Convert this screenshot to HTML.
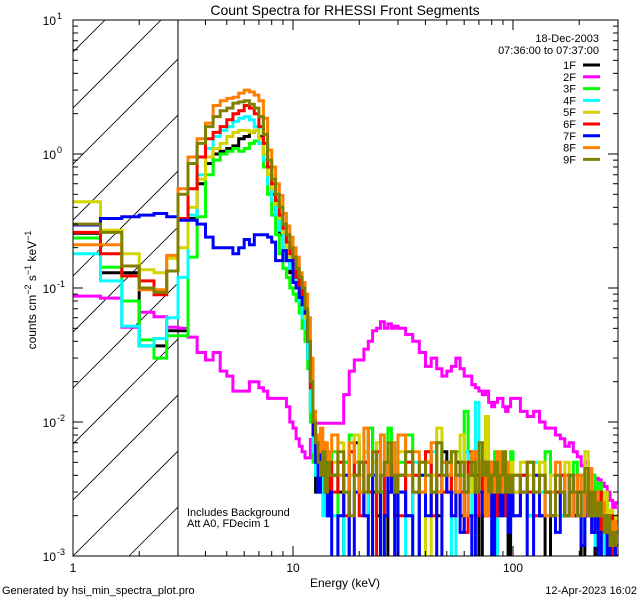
<!DOCTYPE html>
<html><head><meta charset="utf-8"><style>
html,body{margin:0;padding:0;background:#fff;}
svg{display:block;font-family:"Liberation Sans",sans-serif;}
</style></head><body>
<svg id="chart" width="640" height="600" viewBox="0 0 640 600" xmlns="http://www.w3.org/2000/svg">
<defs><clipPath id="pc"><rect x="73" y="20" width="545" height="536"/></clipPath></defs>
<rect width="640" height="600" fill="#fff"/>
<text x="345" y="15" font-size="14" text-anchor="middle">Count Spectra for RHESSI Front Segments</text>
<g id="hatch" clip-path="url(#pc)"></g>
<g id="series" clip-path="url(#pc)"></g>
<g id="axes"></g>
<text transform="translate(36,290) rotate(-90)" font-size="12" text-anchor="middle">counts cm<tspan font-size="9" dy="-5">−2</tspan><tspan dy="5"> s</tspan><tspan font-size="9" dy="-5">−1</tspan><tspan dy="5"> keV</tspan><tspan font-size="9" dy="-5">−1</tspan></text>
<text x="345" y="587" font-size="12" text-anchor="middle">Energy (keV)</text>
<text x="2" y="594" font-size="11">Generated by hsi_min_spectra_plot.pro</text>
<text x="637" y="594" font-size="11" text-anchor="end">12-Apr-2023 16:02</text>
<text x="599" y="42" font-size="11" text-anchor="end">18-Dec-2003</text>
<text x="599" y="54" font-size="11" text-anchor="end">07:36:00 to 07:37:00</text>
<text x="187" y="516" font-size="11">Includes Background</text>
<text x="187" y="527" font-size="11">Att A0, FDecim 1</text>
<g id="legend"></g>
</svg>
<script>
const names = ["1F","2F","3F","4F","5F","6F","7F","8F","9F"];
const colors = ["#000000","#ff00ff","#00ff00","#00ffff","#d4d400","#ff0000","#0000ff","#ff8000","#808000"];
const xTicks = [1,10,100];
const xTickLabels = ["1","10","100"];
const yTickExp = [1,0,-1,-2,-3];
const s1F = [0.256,0.13,0.13,0.037,0.037,0.048,
0.048,0.33,0.6,0.85,1.0,1.05,1.1,1.15,1.3,1.35,1.45,1.5,1.35,1.0,0.7,0.5,0.35,0.25,0.2,0.16,0.13,0.11,0.1,0.08,0.065,0.05,0.03,0.012,0.006,0.003,0.004,0.006,0.003,0.005,0.002,0.004,
.004,.003,.0008,.006,.007,.003,.002,.009,.003,.002,.004,.0008,.003,.005,.002,
.004,.002,.003,.0009,.005,.003,.002,.006,.004,.003,.005,.002,.003,.006,.004,.003,.0009,.002,.004,.003,.005,.002,.003,.004,.002,.003,.0009,.002,
.003,.004,.002,.003,.002,.0009,.002,.003,.004,.002,.003,.002,.003,.0009,.002,.003,.002,.001,.002,.003,.0008,.002,.0015,.0008,.0018];
const s2F = [0.087,0.084,0.051,0.066,0.061,0.051,
0.05,0.043,0.033,0.029,0.033,0.024,0.022,0.017,0.017,0.017,0.02,0.02,0.018,0.017,0.015,0.015,0.015,0.015,0.015,0.013,0.01,0.009,0.0075,0.0066,0.006,0.0054,0.0054,0.0074,0.0098,0.0098,0.0098,0.0098,0.0098,0.0098,0.0098,0.0098,
0.0098,0.0098,0.016,0.024,0.029,0.029,0.035,0.04,0.048,0.05,0.056,0.05,0.054,0.05,0.052,
0.05,0.045,0.04,0.033,0.026,0.03,0.025,0.022,0.024,0.026,0.03,0.025,0.022,0.022,0.019,0.018,0.017,0.016,0.017,0.014,0.013,0.014,0.015,0.015,0.013,0.012,0.013,0.015,
0.015,0.012,0.011,0.012,0.01,0.009,0.009,0.008,0.0075,0.0066,0.007,0.006,0.0055,0.0047,0.005,0.0045,0.004,0.0038,0.0037,0.0035,0.0033,0.003,0.0026,0.0023,0.0025];
const s3F = [0.236,0.143,0.08,0.041,0.03,0.044,
0.044,0.17,0.34,0.7,0.9,1.0,1.05,1.1,1.05,1.1,1.2,1.25,1.2,0.8,0.5,0.35,0.25,0.18,0.14,0.12,0.1,0.09,0.08,0.065,0.05,0.04,0.025,0.01,0.005,0.004,0.003,0.005,0.004,0.003,0.005,0.004,
.006,.002,.005,.008,.004,.003,.006,.009,.004,.007,.003,.005,.009,.004,.006,
.005,.008,.003,.004,.006,.003,.007,.004,.005,.003,.006,.004,.012,.005,.003,.006,.004,.007,.005,.003,.004,.006,.003,.004,.005,.003,.004,.006,
.004,.003,.005,.004,.003,.006,.004,.003,.004,.002,.003,.005,.003,.004,.002,.003,.004,.002,.0035,.002,.003,.0015,.002,.0012,.0018];
const s4F = [0.18,0.113,0.052,0.037,0.042,0.06,
0.12,0.35,0.7,1.1,1.35,1.5,1.6,1.75,1.85,1.9,1.8,1.6,1.2,0.9,0.6,0.45,0.35,0.27,0.2,0.17,0.14,0.12,0.1,0.08,0.06,0.05,0.03,0.012,0.006,0.004,0.003,0.005,0.002,0.004,0.003,0.004,
.002,.0009,.004,.006,.003,.005,.002,.004,.006,.003,.0009,.005,.004,.003,.007,
.003,.0008,.005,.004,.002,.006,.003,.004,.005,.0008,.004,.003,.006,.004,.002,.014,.003,.005,.004,.002,.003,.0009,.004,.005,.002,.004,.003,.002,
.003,.004,.002,.005,.003,.002,.004,.003,.002,.004,.003,.002,.003,.0015,.004,.002,.003,.0012,.002,.0025,.001,.002,.0015,.001,.0012];
const s5F = [0.44,0.27,0.18,0.137,0.13,0.167,
0.2,0.4,0.65,0.95,1.1,1.2,1.35,1.45,1.5,1.5,1.45,1.5,1.3,1.0,0.7,0.55,0.42,0.33,0.26,0.2,0.17,0.14,0.12,0.1,0.08,0.06,0.04,0.02,0.009,0.006,0.005,0.007,0.005,0.004,0.006,0.005,
.005,.007,.003,.004,.008,.004,.006,.003,.005,.007,.004,.003,.006,.005,.004,
.006,.004,.003,.005,.0009,.004,.009,.005,.003,.006,.004,.008,.005,.003,.004,.006,.003,.005,.011,.004,.003,.005,.004,.003,.006,.003,.004,.005,
.003,.005,.004,.003,.005,.003,.004,.002,.003,.005,.003,.004,.002,.003,.006,.003,.002,.003,.0025,.002,.003,.0018,.0022,.0015,.002];
const s6F = [0.26,0.18,0.123,0.113,0.089,0.134,
0.33,0.55,0.95,1.3,1.45,1.6,1.8,2.0,2.1,2.3,2.2,2.0,1.6,1.2,0.8,0.6,0.45,0.35,0.28,0.22,0.18,0.15,0.12,0.1,0.085,0.065,0.04,0.018,0.009,0.006,0.005,0.007,0.004,0.006,0.003,0.005,
.003,.005,.002,.006,.004,.002,.005,.003,.0009,.006,.004,.002,.005,.003,.004,
.002,.005,.004,.003,.006,.002,.004,.003,.005,.002,.004,.003,.0015,.005,.004,.002,.003,.005,.004,.002,.004,.003,.002,.004,.003,.002,.004,.003,
.002,.004,.003,.002,.004,.003,.002,.003,.004,.002,.003,.002,.004,.003,.002,.003,.0015,.002,.003,.0015,.002,.0012,.002,.001,.0015];
const s7F = [0.295,0.33,0.34,0.35,0.36,0.34,
0.32,0.32,0.3,0.24,0.2,0.2,0.2,0.18,0.2,0.23,0.21,0.25,0.25,0.25,0.24,0.22,0.16,0.16,0.19,0.16,0.16,0.11,0.1,0.085,0.075,0.065,0.04,0.02,0.008,0.005,0.003,0.006,0.004,0.003,0.002,0.003,
.0008,.002,.004,.0009,.003,.005,.002,.0008,.004,.003,.0009,.002,.005,.003,.0008,
.003,.002,.0008,.004,.002,.003,.0009,.005,.003,.002,.004,.0015,.003,.002,.0008,.004,.003,.002,.005,.003,.0008,.004,.003,.002,.004,.003,.0015,.003,
.002,.003,.0009,.004,.002,.003,.002,.0015,.003,.002,.004,.002,.003,.0012,.002,.003,.0015,.002,.001,.0015,.002,.001,.0015,.0012,.001];
const s8F = [0.21,0.21,0.146,0.097,0.097,0.175,
0.55,0.95,1.3,1.7,2.3,2.5,2.6,2.65,2.85,3.0,2.9,2.75,2.5,1.85,1.07,0.8,0.6,0.49,0.36,0.29,0.24,0.2,0.17,0.13,0.11,0.09,0.06,0.03,0.012,0.008,0.006,0.009,0.005,0.007,0.004,0.006,
.008,.004,.003,.007,.005,.003,.009,.004,.006,.003,.008,.004,.005,.007,.003,
.008,.004,.006,.003,.005,.007,.003,.005,.004,.006,.003,.005,.002,.004,.006,.003,.005,.004,.002,.005,.003,.004,.006,.003,.004,.005,.003,.004,
.004,.003,.005,.003,.004,.002,.003,.005,.003,.004,.002,.003,.004,.002,.003,.0045,.002,.003,.002,.0025,.0015,.002,.0012,.0018,.0015];
const s9F = [0.30,0.26,0.146,0.1,0.093,0.134,
0.5,0.85,1.2,1.6,1.9,2.1,2.2,2.4,2.45,2.5,2.35,2.2,1.9,1.4,0.9,0.65,0.5,0.4,0.3,0.25,0.2,0.17,0.14,0.12,0.1,0.07,0.04,0.02,0.01,0.007,0.005,0.004,0.006,0.003,0.005,0.004,
.004,.006,.003,.002,.004,.005,.003,.004,.006,.003,.004,.005,.007,.004,.003,
.004,.006,.003,.005,.004,.003,.007,.004,.005,.006,.004,.005,.003,.004,.005,.003,.007,.004,.005,.003,.004,.005,.003,.004,.006,.003,.004,.003,
.004,.003,.005,.003,.004,.003,.002,.004,.003,.002,.004,.003,.002,.003,.0045,.002,.003,.002,.0025,.002,.0015,.002,.0012,.0015,.0012];
const seriesData = [s1F,s2F,s3F,s4F,s5F,s6F,s7F,s8F,s9F];

// energy bin edges (keV): 1/3 keV to 15, 1 keV to 30, 2.5 keV to 100, 8 keV to 300
const edges = [];
for (let i=0;i<=42;i++) edges.push(1+i/3);
for (let e=16;e<=30;e++) edges.push(e);
for (let i=1;i<=28;i++) edges.push(30+2.5*i);
for (let i=1;i<=25;i++) edges.push(100+8*i);

const X0=73, X1=618, Y0=20, Y1=556, DEC=220, YDEC=134;
const xs = e => X0 + DEC*Math.log10(e);
const ys = v => { const vv=Math.max(v,5e-4); return 154 - YDEC*Math.log10(vv); };
const NS="http://www.w3.org/2000/svg";
function mk(tag, attrs, parent){const el=document.createElementNS(NS,tag);for(const k in attrs)el.setAttribute(k,attrs[k]);parent.appendChild(el);return el;}

// hatch
const hatch=document.getElementById('hatch');
const hclip=mk('g',{},hatch);
const hc=mk('clipPath',{id:'hc'},document.querySelector('defs'));
mk('rect',{x:X0,y:Y0,width:xs(3)-X0,height:Y1-Y0},hc);
hclip.setAttribute('clip-path','url(#hc)');
for(let k=-12;k<12;k++){
  const bx=X0+k*56;
  const l=mk('line',{x1:bx,y1:Y1,x2:bx+600,y2:Y1-600,stroke:'#000','stroke-width':0.8},hclip);
  
  
}
const vl=mk('line',{x1:xs(3),y1:Y0,x2:xs(3),y2:Y1,stroke:'#000','stroke-width':1},hatch);



// series
const sg=document.getElementById('series');
seriesData.forEach((vals,si)=>{
  let d='';
  vals.forEach((v,i)=>{
    if(i+1>=edges.length) return;
    const xa=xs(edges[i]).toFixed(1), xb=xs(edges[i+1]).toFixed(1), y=ys(v).toFixed(1);
    d += (i===0?'M':'L')+xa+','+y+'L'+xb+','+y;
  });
  const p=mk('path',{d:d,fill:'none',stroke:colors[si],'stroke-width':3,'stroke-linejoin':'miter'},sg);
  
  
});

// axes
const ax=document.getElementById('axes');
mk('rect',{x:X0,y:Y0,width:X1-X0,height:Y1-Y0,fill:'none',stroke:'#000','stroke-width':1},ax);
for(let dec=0;dec<=2;dec++){
  for(let m=1;m<=9;m++){
    const e=m*Math.pow(10,dec); const x=xs(e); if(x>X1) continue;
    const len = m===1?10:5;
    mk('line',{x1:x,y1:Y1,x2:x,y2:Y1-len,stroke:'#000'},ax);
    mk('line',{x1:x,y1:Y0,x2:x,y2:Y0+len,stroke:'#000'},ax);
  }
}
xTicks.forEach((t,i)=>{
  const tl=mk('text',{x:xs(t),y:572,'font-size':12,'text-anchor':'middle'},ax);
  tl.textContent=xTickLabels[i];
  
  
});
for(let ex=-3;ex<1;ex++){
  for(let m=1;m<=9;m++){
    const y=ys(m*Math.pow(10,ex)); const len=m===1?10:5;
    mk('line',{x1:X0,y1:y,x2:X0+len,y2:y,stroke:'#000'},ax);
    mk('line',{x1:X1,y1:y,x2:X1-len,y2:y,stroke:'#000'},ax);
  }
}
yTickExp.forEach(ex=>{
  const y=ys(Math.pow(10,ex));
  const t=mk('text',{x:56,y:y+5,'font-size':12,'text-anchor':'end'},ax);
  t.textContent='10';
  
  
  const s=mk('text',{x:57,y:y-1,'font-size':9},ax);
  s.textContent=String(ex);
  
  
});

// legend
const lg=document.getElementById('legend');
names.forEach((n,i)=>{
  const y=65+i*11.8;
  const t=mk('text',{x:576,y:y+4,'font-size':11,'text-anchor':'end'},lg);
  t.textContent=n;
  
  
  const l=mk('line',{x1:583,y1:y,x2:600,y2:y,stroke:colors[i],'stroke-width':3},lg);
  
  
});
</script>
</body></html>
